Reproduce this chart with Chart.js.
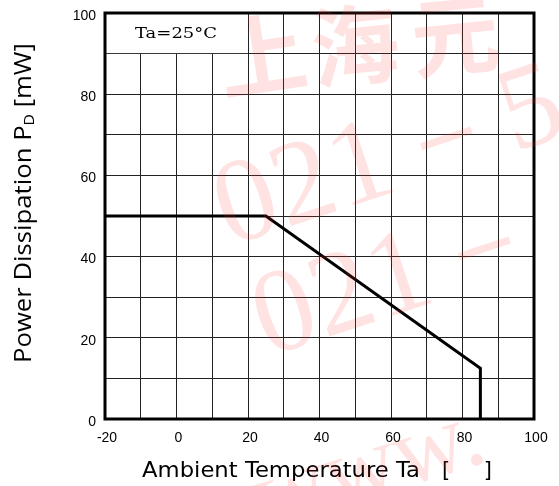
<!DOCTYPE html>
<html>
<head>
<meta charset="utf-8">
<script src="https://cdn.jsdelivr.net/npm/chart.js@4.4.1/dist/chart.umd.min.js"></script>
<style>
  html, body { margin: 0; padding: 0; background: #fff; }
  #wrap { width: 559px; height: 486px; }
</style>
</head>
<body>
<div id="wrap"><canvas id="c" width="559" height="486"></canvas></div>
<script>
// ---- data ----
const tempC = [-20, 25, 85, 85];
const powerMW = [50, 50, 12.5, 0];
const xTickLabels = [-20, 0, 20, 40, 60, 80, 100];
const yTickLabels = [0, 20, 40, 60, 80, 100];
const xTitleMain = 'Ambient Temperature Ta';
const xTitleOpen = '[';
const xTitleClose = ']';
const yTitleMain = 'Power Dissipation P';
const yTitleSub = 'D';
const yTitleEnd = ' [mW]';
const noteText = 'Ta=25°C';

const points = tempC.map((t, i) => ({ x: t, y: powerMW[i] }));

// draw runs [text, font, dy] horizontally stretched to targetWidth, starting at x
function drawStretched(ctx, runs, x, y, targetWidth) {
  let natural = 0;
  runs.forEach(r => { ctx.font = r[1]; r.w = ctx.measureText(r[0]).width; natural += r.w; });
  const s = targetWidth / natural;
  ctx.save();
  ctx.translate(x, y);
  ctx.scale(s, 1);
  ctx.textAlign = 'left';
  ctx.textBaseline = 'alphabetic';
  let px = 0;
  runs.forEach(r => { ctx.font = r[1]; ctx.fillText(r[0], px, r[2]); px += r.w; });
  ctx.restore();
}

const framePlugin = {
  id: 'frame',
  beforeDatasetsDraw(chart) {
    const { ctx, scales: { x, y } } = chart;
    const l = x.getPixelForValue(-20), r = x.getPixelForValue(20);
    const t = y.getPixelForValue(100), b = y.getPixelForValue(90);
    ctx.save();
    ctx.fillStyle = '#fff';
    ctx.fillRect(l + 1, t + 1, r - l - 1.5, b - t - 1.5);
    ctx.fillStyle = '#000';
    drawStretched(ctx, [[noteText, '14px "DejaVu Serif", "Liberation Serif", serif', 0]], 135, 38, 82);
    ctx.restore();
  },
  afterDatasetsDraw(chart) {
    const { ctx, chartArea: a } = chart;
    ctx.save();
    ctx.strokeStyle = '#000';
    ctx.lineWidth = 3;
    ctx.strokeRect(a.left, a.top, a.right - a.left, a.bottom - a.top);
    ctx.restore();
  },
  afterDraw(chart) {
    const { ctx } = chart;
    const xf = '21px "DejaVu Sans", Verdana, sans-serif';
    ctx.save();
    ctx.fillStyle = '#000';
    drawStretched(ctx, [[xTitleMain, xf, 0]], 142, 477, 278);
    ctx.font = xf;
    ctx.textBaseline = 'alphabetic';
    ctx.textAlign = 'left';
    ctx.fillText(xTitleOpen, 442, 477);
    ctx.textAlign = 'right';
    ctx.fillText(xTitleClose, 492, 477);
    ctx.restore();

    ctx.save();
    ctx.fillStyle = '#000';
    ctx.translate(31, 363);
    ctx.rotate(-Math.PI / 2);
    const mainFont = '23px "Open Sans", "Noto Sans", sans-serif';
    const subFont = '14px "Open Sans", "Noto Sans", sans-serif';
    drawStretched(ctx, [[yTitleMain, mainFont, 0], [yTitleSub, subFont, 3], [yTitleEnd, mainFont, 0]], 0, 0, 320);
    ctx.restore();

    // faint watermark
    ctx.save();
    ctx.fillStyle = 'rgba(255, 60, 60, 0.14)';
    ctx.textAlign = 'center';
    ctx.textBaseline = 'middle';
    ctx.font = 'bold 88px "Noto Sans CJK SC", sans-serif';
    const cjk = [['上', 262, 55, -0.15], ['海', 355, 45, -0.1], ['元', 455, 35, -0.1]];
    cjk.forEach(([ch, cx, cy, rot]) => {
      ctx.save(); ctx.translate(cx, cy); ctx.rotate(rot); ctx.fillText(ch, 0, 0); ctx.restore();
    });
    ctx.font = '120px "Liberation Serif", serif';
    const rows = [['021－5', 390, 160], ['021－', 400, 280]];
    rows.forEach(([s, cx, cy]) => {
      ctx.save(); ctx.translate(cx, cy); ctx.rotate(-0.32); ctx.fillText(s, 0, 0); ctx.restore();
    });
    ctx.font = '100px "Liberation Serif", serif';
    ctx.save(); ctx.translate(370, 470); ctx.rotate(-0.3); ctx.fillText('www.', 0, 0); ctx.restore();
    ctx.restore();
  }
};

new Chart(document.getElementById('c'), {
  type: 'line',
  data: {
    datasets: [{
      data: points,
      borderColor: '#000',
      borderWidth: 3,
      pointRadius: 0,
      tension: 0,
      fill: false,
      borderJoinStyle: 'miter'
    }]
  },
  plugins: [framePlugin],
  options: {
    responsive: false,
    animation: false,
    devicePixelRatio: 1,
    layout: { padding: { top: 13, right: 25, left: 0, bottom: 0 } },
    plugins: { legend: { display: false }, tooltip: { enabled: false } },
    scales: {
      x: {
        type: 'linear',
        min: -20, max: 100,
        afterFit(s) { s.height = 67; s.paddingLeft = 0; s.paddingRight = 0; },
        grid: { color: '#222', lineWidth: 1, drawTicks: false },
        border: { display: false },
        ticks: {
          stepSize: 10,
          padding: 11,
          labelOffset: 2,
          color: '#000',
          font: { family: '"Liberation Sans", Arial, sans-serif', size: 14 },
          callback: v => xTickLabels.includes(v) ? String(v) : ''
        }
      },
      y: {
        min: 0, max: 100,
        afterFit(s) { s.width = 105; s.paddingTop = 0; s.paddingBottom = 0; },
        grid: { color: '#222', lineWidth: 1, drawTicks: false },
        border: { display: false },
        ticks: {
          stepSize: 10,
          padding: 9,
          labelOffset: 3,
          color: '#000',
          font: { family: '"Liberation Sans", Arial, sans-serif', size: 14 },
          callback: v => yTickLabels.includes(v) ? String(v) : ''
        }
      }
    }
  }
});
</script>
</body>
</html>
